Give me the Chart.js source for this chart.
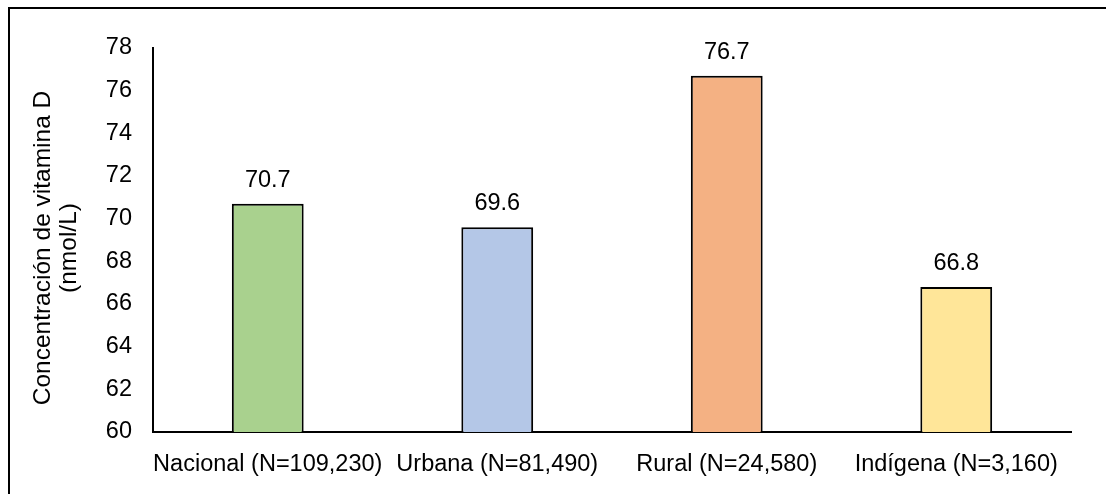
<!DOCTYPE html>
<html>
<head>
<meta charset="utf-8">
<style>
  html, body { margin: 0; padding: 0; background: #fff; overflow: hidden; }
  #wrap { width: 1106px; height: 494px; }
</style>
<script src="https://cdn.jsdelivr.net/npm/chart.js@4.4.1/dist/chart.umd.min.js"></script>
</head>
<body>
<div id="wrap"><canvas id="vitD" width="1106" height="494"></canvas></div>
<script>
// Concentración media de vitamina D por grupo
const grupos = ['Nacional (N=109,230)', 'Urbana (N=81,490)', 'Rural (N=24,580)', 'Indígena (N=3,160)'];
const valores = [70.7, 69.6, 76.7, 66.8];
const colores = ['#a9d18e', '#b4c7e7', '#f4b183', '#ffe699'];
const tituloY = ['Concentración de vitamina D', '(nmol/L)'];

const FONT = "'Liberation Sans', Arial, sans-serif";
const TAM = 23.5;

// marco negro alrededor del gráfico
const marco = {
    id: 'marco',
    afterDraw(chart) {
        const ctx = chart.ctx;
        ctx.save();
        ctx.strokeStyle = '#000';
        ctx.lineWidth = 2;
        ctx.beginPath();
        ctx.moveTo(9, 600);
        ctx.lineTo(9, 8);
        ctx.lineTo(1200, 8);
        ctx.stroke();
        ctx.restore();
    }
};

// título vertical del eje Y, en dos líneas
const tituloEjeY = {
    id: 'tituloEjeY',
    afterDraw(chart) {
        const ctx = chart.ctx;
        const area = chart.chartArea;
        const cy = (area.top + area.bottom) / 2 + 8;
        ctx.save();
        ctx.font = '24.5px ' + FONT;
        ctx.fillStyle = '#000';
        ctx.textAlign = 'center';
        ctx.textBaseline = 'middle';
        tituloY.forEach((linea, i) => {
            ctx.save();
            ctx.translate(43 + i * 26, cy);
            ctx.rotate(-Math.PI / 2);
            ctx.fillText(linea, 0, 0);
            ctx.restore();
        });
        ctx.restore();
    }
};

// etiquetas de valor encima de cada barra
const etiquetas = {
    id: 'etiquetas',
    afterDatasetsDraw(chart) {
        const ctx = chart.ctx;
        const meta = chart.getDatasetMeta(0);
        ctx.save();
        ctx.font = TAM + 'px ' + FONT;
        ctx.fillStyle = '#000';
        ctx.textAlign = 'center';
        ctx.textBaseline = 'alphabetic';
        meta.data.forEach((bar, i) => {
            ctx.fillText(valores[i].toFixed(1), bar.x, bar.y - 17);
        });
        ctx.restore();
    }
};

const config = {
    type: 'bar',
    data: {
        labels: grupos,
        datasets: [{
            data: valores,
            backgroundColor: colores,
            borderColor: '#000',
            borderWidth: 2,
            borderSkipped: false,
            categoryPercentage: 1,
            barPercentage: 0.313
        }]
    },
    options: {
        responsive: false,
        animation: false,
        layout: { padding: { top: 48, right: 35, left: 0, bottom: 0 } },
        plugins: {
            legend: { display: false },
            tooltip: { enabled: false }
        },
        scales: {
            x: {
                grid: { display: false },
                border: { display: true, color: '#000', width: 2 },
                ticks: {
                    color: '#000',
                    font: { family: FONT, size: TAM },
                    maxRotation: 0,
                    autoSkip: false,
                    padding: 10
                },
                afterFit(scale) { scale.height = 62; }
            },
            y: {
                min: 60,
                max: 78,
                grid: { display: false },
                border: { display: true, color: '#000', width: 2 },
                ticks: {
                    stepSize: 2,
                    color: '#000',
                    font: { family: FONT, size: TAM },
                    padding: 13
                },
                afterFit(scale) { scale.width = 153; }
            }
        }
    },
    plugins: [marco, tituloEjeY, etiquetas]
};

new Chart(document.getElementById('vitD').getContext('2d'), config);
</script>
</body>
</html>
